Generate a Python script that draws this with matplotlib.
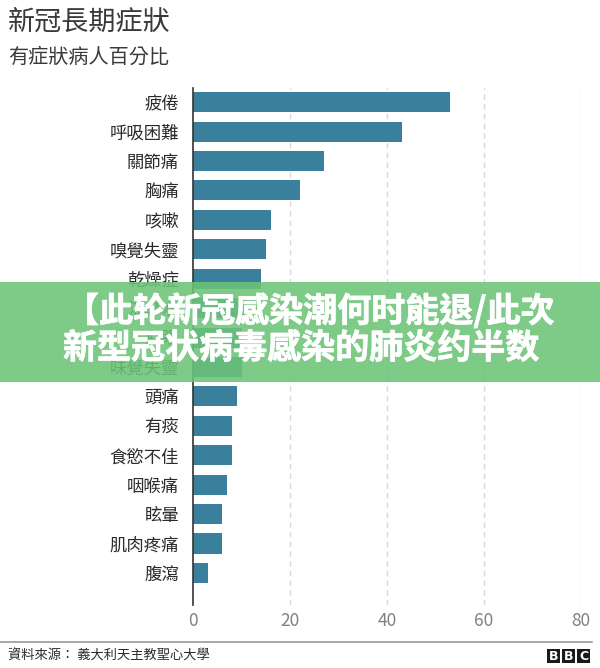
import matplotlib
matplotlib.use("Agg")
import matplotlib.pyplot as plt
import matplotlib.patheffects as pe
from matplotlib.patches import Rectangle
import numpy as np

plt.rcParams['font.family'] = ['Noto Sans CJK TC', 'DejaVu Sans']

# data (percent of patients with symptom)
symptoms = ['疲倦', '呼吸困難', '關節痛', '胸痛', '咳嗽', '嗅覺失靈', '乾燥症',
            '流鼻水', '紅眼', '味覺失靈', '頭痛', '有痰', '食慾不佳', '咽喉痛',
            '眩暈', '肌肉疼痛', '腹瀉']
percent = [53, 43, 27, 22, 16, 15, 14, 11, 10, 10, 9, 8, 8, 7, 6, 6, 3]
xticks = [0, 20, 40, 60, 80]

title = '新冠長期症狀'
subtitle = '有症狀病人百分比'
source = '資料來源： 義大利天主教聖心大學'
banner_lines = ['【此轮新冠感染潮何时能退/此次', '新型冠状病毒感染的肺炎约半数']

W, H = 600, 668
fig = plt.figure(figsize=(W / 100, H / 100), dpi=100)
fig.patch.set_facecolor('white')

# axes box in pixels: x 193..581, y 88..605
ax = fig.add_axes([193 / W, 1 - 605 / H, (581 - 193) / W, (605 - 88) / H])
y = np.arange(len(symptoms))
ax.barh(y, percent, height=0.68, color='#3a7f9c', zorder=3)
ax.set_xlim(0, 80)
ax.set_ylim(len(symptoms) - 1 + 1.09, -0.48)

ax.set_yticks(y)
ax.set_yticklabels(symptoms, fontsize=12.5, color='#2b2b2b')
ax.set_xticks(xticks)
ax.set_xticklabels([str(t) for t in xticks], fontsize=12.5, color='#808080')
ax.tick_params(axis='y', length=0, pad=10)
ax.tick_params(axis='x', length=0, pad=5)

for t in xticks[1:]:
    ax.axvline(t, color='#d8d8d8', lw=1, ls=(0, (4, 3)), zorder=1)

for s in ['top', 'right', 'bottom']:
    ax.spines[s].set_visible(False)
ax.spines['left'].set_color('#333333')
ax.spines['left'].set_linewidth(1.2)
ax.spines['left'].set_zorder(4)

# titles
fig.text(8 / W, 1 - 22 / H, title, fontsize=19.5, color='#3a3a3a', va='center', ha='left')
fig.text(8 / W, 1 - 57 / H, subtitle, fontsize=14.5, color='#3a3a3a', va='center', ha='left')

# footer
fig.add_artist(plt.Line2D([0, 592 / W], [1 - 642 / H, 1 - 642 / H], color='#9a9a9a', lw=1.2))
fig.text(8 / W, 1 - 656 / H, source, fontsize=9.5, color='#2b2b2b', va='center', ha='left')
for i, letter in enumerate('BBC'):
    x0 = 547 + i * 15
    fig.add_artist(Rectangle((x0 / W, 1 - 663 / H), 13 / W, 14 / H,
                             transform=fig.transFigure, color='#1a1a1a', lw=0))
    fig.text((x0 + 6.5) / W, 1 - 656 / H, letter, fontsize=9, fontweight='bold',
             color='white', ha='center', va='center', family='DejaVu Sans')

# green banner overlay
fig.add_artist(Rectangle((0, 1 - 382 / H), 1, 100 / H, transform=fig.transFigure,
                         color='#6cc478', alpha=0.88, lw=0, zorder=10))
thick = [pe.withStroke(linewidth=0.5, foreground='white')]
fig.text(65 / W, 1 - 311 / H, banner_lines[0], fontsize=24.5, fontweight='bold',
         color='white', ha='left', va='center', zorder=11, path_effects=thick)
fig.text(63 / W, 1 - 348 / H, banner_lines[1], fontsize=24.5, fontweight='bold',
         color='white', ha='left', va='center', zorder=11, path_effects=thick)

fig.savefig('out.png', dpi=100, facecolor='white')
